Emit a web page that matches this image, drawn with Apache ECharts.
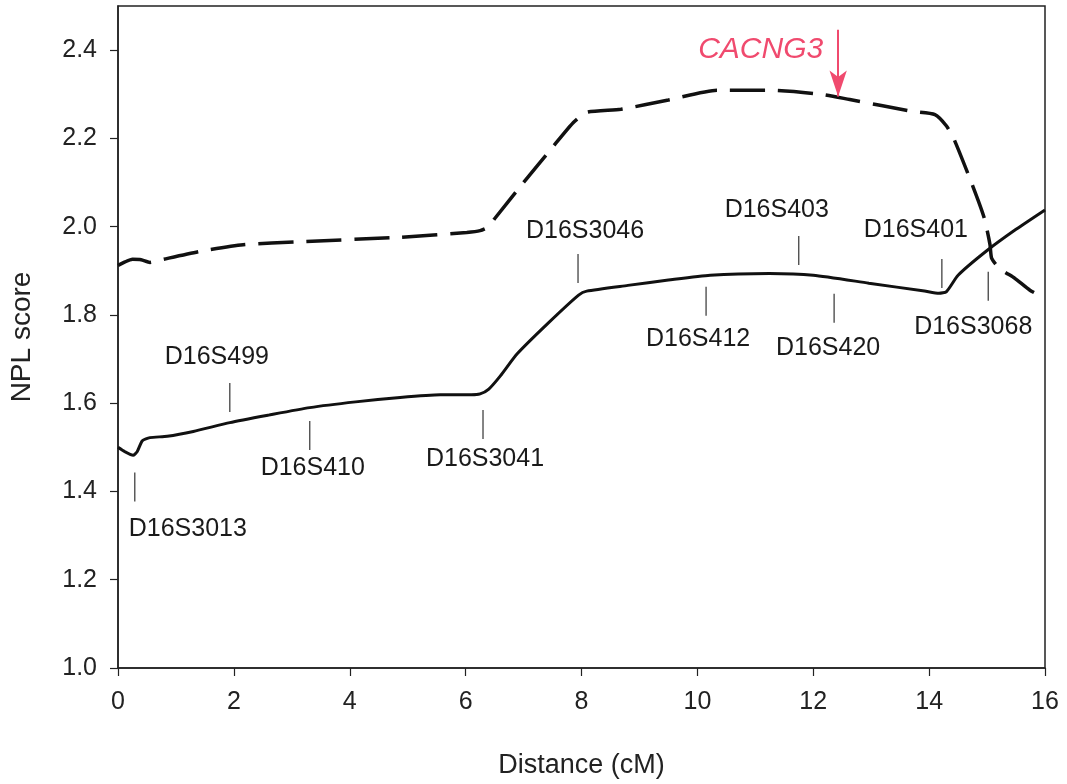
<!DOCTYPE html>
<html>
<head>
<meta charset="utf-8">
<title>NPL score</title>
<script src="https://cdn.jsdelivr.net/npm/echarts@6/dist/echarts.min.js"></script>
<style>
  html, body { margin: 0; padding: 0; background: #fff; }
  #chart { width: 1067px; height: 784px; }
</style>
</head>
<body>
<div id="chart"></div>
<script>
// solid curve: distance (cM), NPL score
var solidX = [0, 0.12, 0.26, 0.33, 0.42, 0.55, 0.85, 1.3, 1.93, 2.6, 3.31, 4.1, 4.87, 5.56, 6.1, 6.25, 6.4, 6.6, 6.89, 7.42, 7.95, 8.09, 8.8, 9.5, 10.22, 11.24, 12.0, 12.96, 13.92, 14.17, 14.3, 14.5, 15.0, 15.5, 16]
var solidY = [1.50, 1.49, 1.482, 1.49, 1.515, 1.522, 1.525, 1.536, 1.556, 1.573, 1.59, 1.603, 1.613, 1.619, 1.619, 1.621, 1.632, 1.662, 1.712, 1.781, 1.845, 1.854, 1.867, 1.879, 1.89, 1.894, 1.89, 1.872, 1.854, 1.849, 1.853, 1.89, 1.946, 1.994, 2.038]

// dashed curve
var dashX = [0, 0.12, 0.25, 0.4, 0.55, 0.75, 1.42, 2.16, 3.14, 4.87, 6.02, 6.25, 6.4, 6.5, 7.0, 7.5, 7.86, 8.09, 8.68, 9.5, 10.34, 11.24, 12.13, 12.63, 13.72, 14.1, 14.3, 14.43, 14.75, 14.95, 15.05, 15.08, 15.22, 15.48, 15.74, 16]
var dashY = [1.912, 1.92, 1.926, 1.925, 1.919, 1.925, 1.944, 1.959, 1.966, 1.976, 1.987, 1.991, 2.0, 2.018, 2.10, 2.18, 2.236, 2.259, 2.266, 2.287, 2.309, 2.309, 2.3, 2.288, 2.261, 2.254, 2.228, 2.198, 2.093, 2.02, 1.96, 1.928, 1.905, 1.883, 1.856, 1.838]

// marker positions
var markerNames = ['D16S3013', 'D16S499', 'D16S410', 'D16S3041', 'D16S3046', 'D16S412', 'D16S403', 'D16S420', 'D16S401', 'D16S3068']
var markerX = [0.29, 1.93, 3.31, 6.30, 7.94, 10.15, 11.75, 12.36, 14.22, 15.02]
var markerY = [1.410, 1.613, 1.527, 1.552, 1.905, 1.831, 1.946, 1.815, 1.894, 1.865]
// label offsets in px from the tick centre
var markerLabelOffset = [[53, 42], [-13, -40], [3, 33], [2, 35], [7, -37], [-8, 38], [-22, -40], [-6, 40], [-26, -43], [-15, 41]]

// gene arrow
var geneName = 'CACNG3'
var geneX = 12.43
var geneTop = 2.446
var geneTip = 2.295

var yTicks = [1.0, 1.2, 1.4, 1.6, 1.8, 2.0, 2.2, 2.4]

var font = 'Liberation Sans, Arial, sans-serif'
var pink = '#f04a6e'

function pairs (xs, ys) {
  return xs.map(function (x, i) { return [x, ys[i]] })
}

var chart = echarts.init(document.getElementById('chart'))

chart.setOption({
  animation: false,
  backgroundColor: '#fff',
  grid: {
    left: 118,
    right: 22,
    top: 6,
    bottom: 112,
    show: true,
    borderColor: '#222',
    borderWidth: 1.5
  },
  xAxis: {
    type: 'value',
    min: 0,
    max: 16,
    interval: 2,
    name: 'Distance (cM)',
    nameLocation: 'middle',
    nameGap: 84,
    nameTextStyle: { fontSize: 27, color: '#222', fontFamily: font },
    axisLine: { show: true, lineStyle: { color: '#222', width: 1.5 } },
    axisTick: { show: true, inside: false, length: 8, lineStyle: { color: '#222', width: 1.2 } },
    axisLabel: { fontSize: 25, color: '#222', fontFamily: font, margin: 22 },
    splitLine: { show: false }
  },
  yAxis: {
    type: 'value',
    min: 1.0,
    max: 2.5,
    interval: 0.2,
    name: 'NPL score',
    nameLocation: 'middle',
    nameGap: 82,
    nameTextStyle: { fontSize: 28, color: '#222', fontFamily: font },
    axisLine: { show: true, lineStyle: { color: '#222', width: 1.5 } },
    axisTick: { show: true, inside: false, length: 8, customValues: yTicks, lineStyle: { color: '#222', width: 1.2 } },
    axisLabel: {
      fontSize: 25,
      color: '#222',
      fontFamily: font,
      margin: 21,
      customValues: yTicks,
      formatter: function (v) { return v.toFixed(1) }
    },
    splitLine: { show: false }
  },
  series: [
    {
      type: 'line',
      data: pairs(dashX, dashY),
      showSymbol: false,
      smooth: 0.2,
      lineStyle: { color: '#111', width: 3.5, type: [35, 13], cap: 'butt' },
      z: 2
    },
    {
      type: 'line',
      data: pairs(solidX, solidY),
      showSymbol: false,
      smooth: 0.2,
      lineStyle: { color: '#111', width: 3 },
      z: 3
    },
    {
      type: 'scatter',
      symbol: 'rect',
      symbolSize: [1.2, 29],
      itemStyle: { color: '#333', opacity: 1 },
      label: {
        show: true,
        position: 'inside',
        formatter: '{b}',
        fontSize: 25,
        color: '#1a1a1a',
        opacity: 1,
        fontFamily: font
      },
      data: markerNames.map(function (n, i) {
        return {
          name: n,
          value: [markerX[i], markerY[i]],
          label: { offset: markerLabelOffset[i] }
        }
      }),
      z: 4
    },
    {
      type: 'scatter',
      symbolSize: 0,
      itemStyle: { opacity: 1 },
      data: [{ name: geneName, value: [geneX, geneTop] }],
      label: {
        show: true,
        position: 'left',
        distance: 15,
        offset: [0, 20],
        formatter: '{b}',
        fontSize: 30,
        fontStyle: 'italic',
        color: pink,
        opacity: 1,
        fontFamily: font
      },
      markLine: {
        silent: true,
        symbol: ['none', 'arrow'],
        symbolSize: [13, 26],
        label: { show: false },
        lineStyle: { color: pink, width: 2, type: 'solid', opacity: 1 },
        data: [[{ coord: [geneX, geneTop] }, { coord: [geneX, geneTip] }]]
      },
      z: 5
    }
  ]
})
</script>
</body>
</html>
